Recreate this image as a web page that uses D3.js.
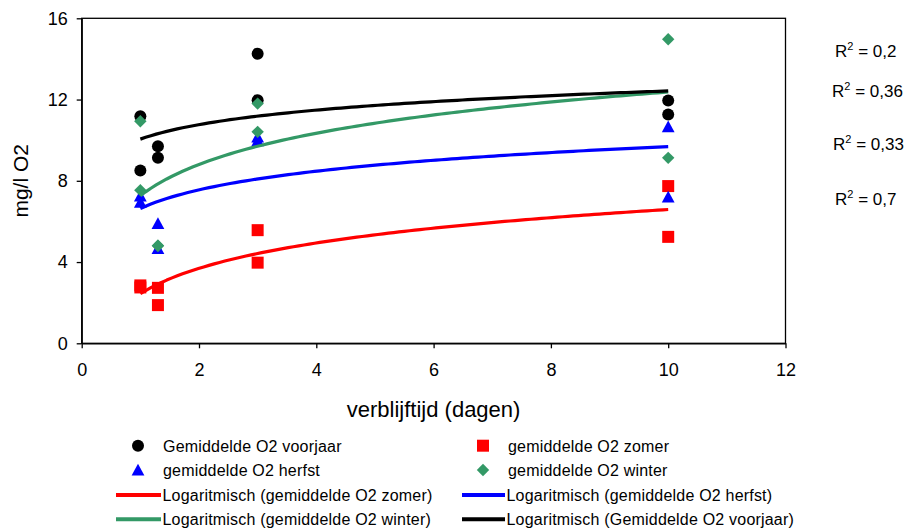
<!DOCTYPE html>
<html>
<head>
<meta charset="utf-8">
<script src="https://cdn.jsdelivr.net/npm/d3@7"></script>
<style>
  body { margin: 0; background: #fff; }
  svg { display: block; font-family: "Liberation Sans", Arial, sans-serif; }
</style>
</head>
<body>
<svg id="chart" width="906" height="529"></svg>
<script>
// Residence time (days) for each measurement
const xDays    = [1, 1, 1.3, 1.3, 3, 3, 10, 10];
// Mean O2 (mg/l) per season
const voorjaar = [11.18, 8.51, 9.70, 9.13, 14.26, 11.97, 11.95, 11.26];
const zomer    = [2.85, 2.75, 2.73, 1.88, 5.57, 3.97, 7.74, 5.24];
const herfst   = [7.26, 6.95, 5.90, 4.67, 9.98, 10.16, 10.66, 7.21];
const winter   = [10.93, 7.54, 4.80, 4.80, 11.80, 10.41, 14.97, 9.13];

const xTicks = [0, 2, 4, 6, 8, 10, 12];
const yTicks = [0, 4, 8, 12, 16];
const r2Labels = ["0,2", "0,36", "0,33", "0,7"];

const svg = d3.select("#chart");
const plotL = 81.7, plotR = 785.5, plotT = 18.3, plotB = 343.3;

const x = d3.scaleLinear().domain([0, 12]).range([plotL, plotR]);
const y = d3.scaleLinear().domain([0, 16]).range([plotB, plotT]);

// Plot frame
svg.append("rect")
  .attr("x", plotL).attr("y", plotT)
  .attr("width", plotR - plotL).attr("height", plotB - plotT)
  .attr("fill", "none").attr("stroke", "#000").attr("stroke-width", 1.3);

// Axes
const yAxis = d3.axisLeft(y).tickValues(yTicks).tickSizeInner(5).tickSizeOuter(0).tickPadding(9);
const xAxis = d3.axisBottom(x).tickValues(xTicks).tickSizeInner(5).tickSizeOuter(0).tickPadding(15);

const gy = svg.append("g").attr("transform", `translate(${plotL},0)`).call(yAxis);
const gx = svg.append("g").attr("transform", `translate(0,${plotB})`).call(xAxis);
[gx, gy].forEach(g => {
  g.select(".domain").attr("stroke", "#000").attr("stroke-width", 1.3);
  g.selectAll(".tick line").attr("stroke", "#000").attr("stroke-width", 1.3);
  g.selectAll(".tick text").attr("fill", "#000")
    .style("font-size", "18px").style("font-family", "'Liberation Sans', Arial, sans-serif");
});

// Axis titles
svg.append("text")
  .attr("x", (plotL + plotR) / 2).attr("y", 417)
  .attr("text-anchor", "middle").style("font-size", "22px")
  .text("verblijftijd (dagen)");
svg.append("text")
  .attr("transform", `translate(28,${(plotT + plotB) / 2}) rotate(-90)`)
  .attr("text-anchor", "middle").style("font-size", "21px")
  .text("mg/l O2");

// Marker shapes
const shapes = {
  circle:   "M6,0A6,6 0 1,1 -6,0A6,6 0 1,1 6,0Z",
  square:   "M-6,-6H6V6H-6Z",
  triangle: "M0,-6.2L6.4,5.6L-6.4,5.6Z",
  diamond:  "M0,-6.2L6.2,0L0,6.2L-6.2,0Z"
};

const series = [
  { name: "Gemiddelde O2 voorjaar", values: voorjaar, color: "#000000", shape: "circle" },
  { name: "gemiddelde O2 zomer",    values: zomer,    color: "#FF0000", shape: "square" },
  { name: "gemiddelde O2 herfst",   values: herfst,   color: "#0000FF", shape: "triangle" },
  { name: "gemiddelde O2 winter",   values: winter,   color: "#339966", shape: "diamond" }
];

// Scatter markers
series.forEach(s => {
  svg.append("g").selectAll("path")
    .data(xDays.map((d, i) => [d, s.values[i]]))
    .join("path")
    .attr("d", shapes[s.shape])
    .attr("transform", d => `translate(${x(d[0])},${y(d[1])})`)
    .attr("fill", s.color);
});

// Logarithmic least-squares fit: y = a*ln(x) + b
function logFit(xs, ys) {
  const lx = xs.map(Math.log);
  const mx = d3.mean(lx), my = d3.mean(ys);
  let sxy = 0, sxx = 0;
  lx.forEach((v, i) => { sxy += (v - mx) * (ys[i] - my); sxx += (v - mx) ** 2; });
  const a = sxy / sxx;
  return { a, b: my - a * mx };
}

const trendOrder = [
  { s: series[1], label: "Logaritmisch (gemiddelde O2 zomer)" },
  { s: series[2], label: "Logaritmisch (gemiddelde O2 herfst)" },
  { s: series[3], label: "Logaritmisch (gemiddelde O2 winter)" },
  { s: series[0], label: "Logaritmisch (Gemiddelde O2 voorjaar)" }
];

const xMin = d3.min(xDays), xMax = d3.max(xDays);
const samples = d3.range(0, 101).map(i => xMin + (xMax - xMin) * i / 100);
const line = d3.line().x(d => x(d[0])).y(d => y(d[1]));

trendOrder.forEach(t => {
  const f = logFit(xDays, t.s.values);
  svg.append("path")
    .datum(samples.map(v => [v, f.a * Math.log(v) + f.b]))
    .attr("d", line)
    .attr("fill", "none")
    .attr("stroke", t.s.color)
    .attr("stroke-width", 3.2)
    .attr("stroke-linejoin", "round");
});

// R² labels
const r2Pos = [[835, 57], [832, 97], [833, 150], [835, 205]];
r2Labels.forEach((lab, i) => {
  const t = svg.append("text")
    .attr("x", r2Pos[i][0]).attr("y", r2Pos[i][1])
    .style("font-size", "17px");
  t.append("tspan").text("R");
  t.append("tspan").attr("dy", -7).style("font-size", "11px").text("2");
  t.append("tspan").attr("dy", 7).text(" = " + lab);
});

// Legend
const legend = svg.append("g").style("font-size", "16px").style("letter-spacing", "0.2px");
const colX = [[138, 163], [483, 508]];
const rowY = [445.7, 470, 495, 519.3];

series.forEach((s, i) => {
  const c = colX[i % 2], r = rowY[Math.floor(i / 2)];
  legend.append("path").attr("d", shapes[s.shape])
    .attr("transform", `translate(${c[0]},${r})`).attr("fill", s.color);
  legend.append("text").attr("x", c[1]).attr("y", r + 6).text(s.name);
});

const lineX = [[116, 161], [462, 505]];
trendOrder.forEach((t, i) => {
  const lx = lineX[i % 2], r = rowY[2 + Math.floor(i / 2)];
  legend.append("line")
    .attr("x1", lx[0]).attr("x2", lx[1]).attr("y1", r).attr("y2", r)
    .attr("stroke", t.s.color).attr("stroke-width", 4);
  legend.append("text").attr("x", lx[1] + 1.5).attr("y", r + 6).text(t.label);
});
</script>
</body>
</html>
